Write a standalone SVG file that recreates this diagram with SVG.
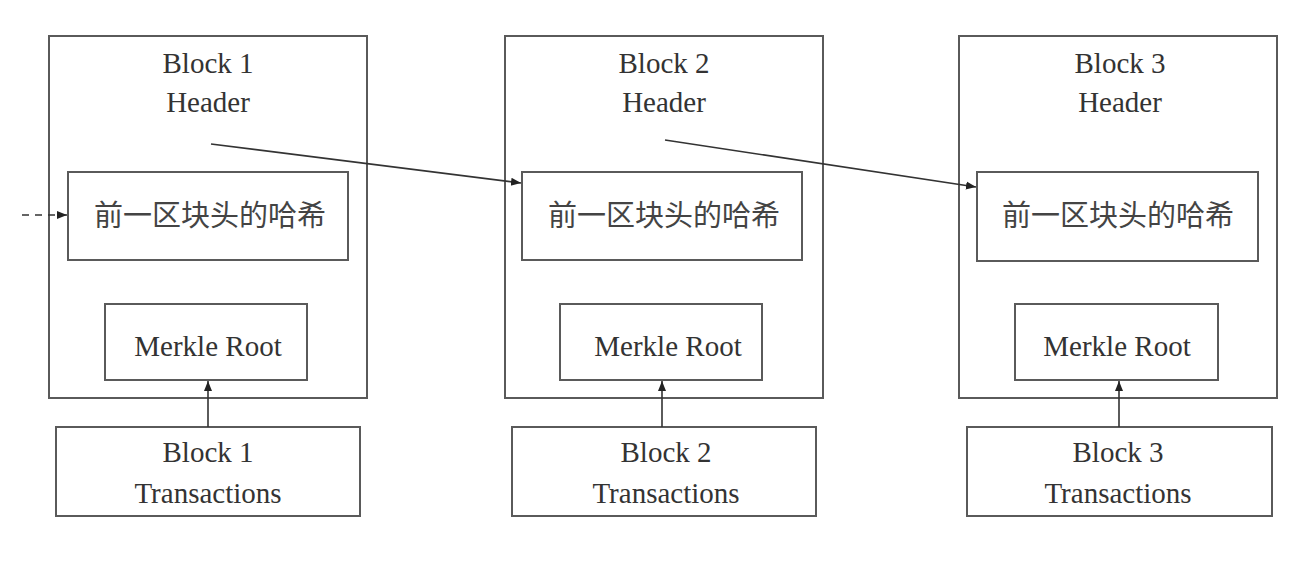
<svg xmlns="http://www.w3.org/2000/svg" width="1314" height="576" viewBox="0 0 1314 576">
<style>
.box{fill:none;stroke:#5a5a5a;stroke-width:2}
.t{font-family:"Liberation Serif","Times New Roman",serif;font-size:29px;fill:#333;text-anchor:middle}
.c{font-family:"Noto Sans CJK SC","Noto Sans",sans-serif;font-size:29px;fill:#444;text-anchor:middle}
.ln{fill:none;stroke:#333;stroke-width:1.6}
</style>
<defs>
<marker id="ah" viewBox="0 0 10 10" refX="10" refY="5" markerWidth="10" markerHeight="10" markerUnits="userSpaceOnUse" orient="auto">
<path d="M0,1 L10,5 L0,9 z" fill="#222"/>
</marker>
</defs>
<rect width="1314" height="576" fill="#fff"/>
<g id="block1">
<rect class="box" x="49" y="36" width="318" height="362"/>
<text class="t" x="208" y="73">Block 1</text>
<text class="t" x="208" y="112">Header</text>
</g>
<g id="hash1"><rect class="box" x="68" y="172" width="280" height="88"/><text class="c" x="210" y="226">前一区块头的哈希</text></g>
<g id="merkle1"><rect class="box" x="105" y="304" width="202" height="76"/><text class="t" x="208" y="356">Merkle Root</text></g>
<g id="tx1"><rect class="box" x="56" y="427" width="304" height="89"/><text class="t" x="208" y="462">Block 1</text><text class="t" x="208" y="503">Transactions</text></g>
<g id="block2">
<rect class="box" x="505" y="36" width="318" height="362"/>
<text class="t" x="664" y="73">Block 2</text>
<text class="t" x="664" y="112">Header</text>
</g>
<g id="hash2"><rect class="box" x="522" y="172" width="280" height="88"/><text class="c" x="664" y="226">前一区块头的哈希</text></g>
<g id="merkle2"><rect class="box" x="560" y="304" width="202" height="76"/><text class="t" x="668" y="356">Merkle Root</text></g>
<g id="tx2"><rect class="box" x="512" y="427" width="304" height="89"/><text class="t" x="666" y="462">Block 2</text><text class="t" x="666" y="503">Transactions</text></g>
<g id="block3">
<rect class="box" x="959" y="36" width="318" height="362"/>
<text class="t" x="1120" y="73">Block 3</text>
<text class="t" x="1120" y="112">Header</text>
</g>
<g id="hash3"><rect class="box" x="977" y="172" width="281" height="89"/><text class="c" x="1118" y="226">前一区块头的哈希</text></g>
<g id="merkle3"><rect class="box" x="1015" y="304" width="203" height="76"/><text class="t" x="1117" y="356">Merkle Root</text></g>
<g id="tx3"><rect class="box" x="967" y="427" width="305" height="89"/><text class="t" x="1118" y="462">Block 3</text><text class="t" x="1118" y="503">Transactions</text></g>
<g id="connectors">
<line class="ln" x1="22" y1="215" x2="67" y2="215" stroke-dasharray="7,6" marker-end="url(#ah)"/>
<line class="ln" x1="211" y1="144" x2="521" y2="183" marker-end="url(#ah)"/>
<line class="ln" x1="665" y1="140" x2="976" y2="187" marker-end="url(#ah)"/>
<line class="ln" x1="208" y1="427" x2="208" y2="381" marker-end="url(#ah)"/>
<line class="ln" x1="662" y1="427" x2="662" y2="381" marker-end="url(#ah)"/>
<line class="ln" x1="1119" y1="427" x2="1119" y2="381" marker-end="url(#ah)"/>
</g>
</svg>
